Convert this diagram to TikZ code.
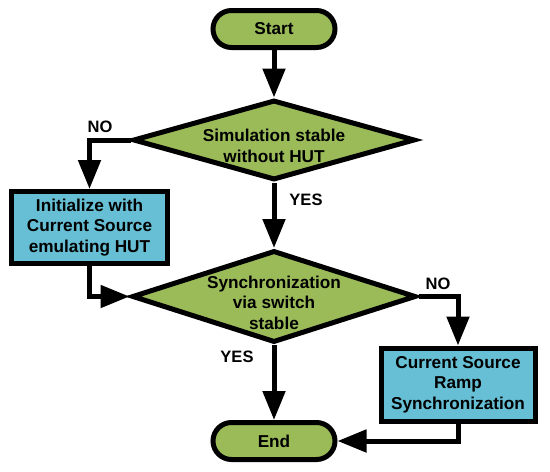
\documentclass[tikz,border=0pt]{standalone}
\usepackage{fontspec}
\setmainfont{Liberation Sans}
\usetikzlibrary{arrows.meta,shapes.geometric,positioning}
\definecolor{termgreen}{RGB}{155,187,89}
\definecolor{procblue}{RGB}{102,191,212}
\tikzset{
  txt/.style={font=\bfseries\fontsize{17.2}{20.5}\selectfont, align=center},
  terminal/.style={txt, draw, fill=termgreen, rounded corners=18.5pt, minimum width=122pt, minimum height=37pt, inner sep=0pt},
  process/.style={txt, draw, fill=procblue, minimum width=156pt, minimum height=72pt, inner sep=0pt},
  decision/.style={draw, fill=termgreen, diamond, inner sep=0pt, miter limit=20},
  answer/.style={font=\bfseries\fontsize{16.5}{19}\selectfont},
  flow/.style={draw, -{Triangle[length=29pt,width=22pt]}},
}
\begin{document}
\begin{tikzpicture}[x=1pt, y=-1pt, line width=5pt]
    \useasboundingbox (0,0) rectangle (550,472);

    % Start / Ende
    \node[terminal] (start) at (274,29) {Start};
    \node[terminal] (end) at (274,441) {End};

    % Entscheidungen
    \node[decision, minimum width=282pt, minimum height=80pt] (sim) at (274,140) {};
    \node[txt] (simtext) at ([yshift=-6pt]sim.center) {Simulation stable\\without HUT};
    \node[decision, minimum width=284pt, minimum height=92pt] (sync) at (274,296.5) {};
    \node[txt] (synctext) at ([yshift=-6pt]sync.center) {Synchronization\\via switch\\stable};

    % Prozesse
    \node[process] (init) at (89.5,227.5) {Initialize with\\Current Source\\emulating HUT};
    \node[process, minimum width=154pt, minimum height=73pt] (ramp) at (458,384.5) {Current Source\\Ramp\\Synchronization};

    % Pfeile
    \draw[flow] (start) -- (sim);
    \draw[flow] (sim) -- (sync);
    \draw[flow] (sync) -- (end);
    \draw[flow] (sim.west) -| (init.north);
    \draw[flow] (init.south) |- (sync.west);
    \draw[flow] (sync.east) -| (ramp.north);
    \draw[flow] (ramp.south) |- (end.east);

    % Beschriftungen
    \node[answer] (no1) at (100,127) {NO};
    \node[answer] (yes1) at (306,200) {YES};
    \node[answer] (no2) at (438,284) {NO};
    \node[answer] (yes2) at (237,357) {YES};
\end{tikzpicture}
\end{document}
